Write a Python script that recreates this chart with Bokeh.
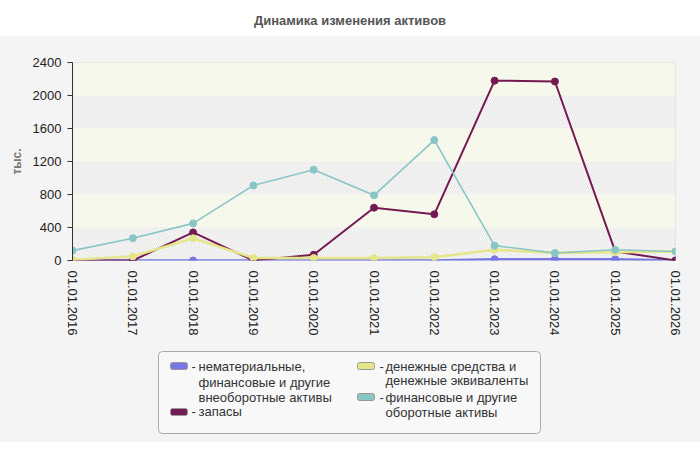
from bokeh.plotting import figure
from bokeh.models import Range1d, FixedTicker, Div
from bokeh.core.properties import value
from bokeh.layouts import column
from bokeh.embed import file_html
from bokeh.resources import INLINE

# ---- data ----
dates = ["01.01.2016", "01.01.2017", "01.01.2018", "01.01.2019", "01.01.2020", "01.01.2021",
         "01.01.2022", "01.01.2023", "01.01.2024", "01.01.2025", "01.01.2026"]
intangible = [0, 0, 0, 0, 0, 0, 0, 15, 15, 15, 0]
inventory = [0, 0, 340, 0, 70, 640, 560, 2180, 2170, 110, 0]
cash = [10, 50, 270, 30, 30, 30, 40, 130, 90, 100, 110]
other_current = [120, 270, 450, 910, 1100, 790, 1460, 180, 90, 130, 110]
y_ticks = [0, 400, 800, 1200, 1600, 2000, 2400]

names = ["нематериальные,\nфинансовые и другие\nвнеоборотные активы",
         "запасы",
         "денежные средства и\nденежные эквиваленты",
         "финансовые и другие\nоборотные активы"]
colors = ["#7676e6", "#741a52", "#e5e58a", "#88c6c6"]

W = 690
H1, H2 = 310, 95
BL, BR = 72, 15
FONT = "Liberation Sans"
PANEL = "#f4f4f4"

x = list(range(len(dates)))

p = figure(width=W, height=H1, output_backend="svg", toolbar_location=None,
           x_range=Range1d(0, len(dates) - 1), y_range=Range1d(y_ticks[0], y_ticks[-1]),
           min_border_left=BL, min_border_right=BR, min_border_top=25, min_border_bottom=H1 - 223)
p.border_fill_color = PANEL
p.background_fill_color = "#fcfdf2"
p.outline_line_color = "#dddddd"

# alternating hatched bands
hb = y_ticks[0::2][:-1]
ht = [v + 400 for v in hb]
p.quad(left=0, right=len(dates) - 1, bottom=hb, top=ht, fill_color="#f8f8f7", line_color=None,
       hatch_pattern="/", hatch_color="#e6e6e6", hatch_scale=4, hatch_weight=1)
cb = y_ticks[1::2]
ct = [v + 400 for v in cb]
p.quad(left=0, right=len(dates) - 1, bottom=cb, top=ct, fill_color="#fcfdf2", line_color=None,
       hatch_pattern="/", hatch_color="#f0f2e4", hatch_scale=4, hatch_weight=1)

# grid / axes
p.xgrid.grid_line_color = "#dcdcdc"
p.ygrid.grid_line_color = "#dcdcdc"
p.xgrid.grid_line_dash = "5 3"
p.ygrid.grid_line_dash = "5 3"
p.xaxis.ticker = FixedTicker(ticks=x)
p.yaxis.ticker = FixedTicker(ticks=y_ticks)
p.xaxis.major_label_overrides = {i: d for i, d in enumerate(dates)}
p.xaxis.major_label_orientation = "vertical"
p.xaxis.minor_tick_line_color = None
p.yaxis.minor_tick_line_color = None
p.yaxis.major_tick_out = 5
p.yaxis.major_tick_in = 0
p.yaxis.axis_line_color = "#333333"
p.yaxis.major_tick_line_color = "#333333"
p.xaxis.axis_line_color = None
p.xaxis.major_tick_line_color = None
p.axis.major_label_text_font = FONT
p.axis.major_label_text_font_size = "13px"
p.axis.major_label_text_color = "#222222"
p.xaxis.major_label_standoff = 4
p.yaxis.major_label_standoff = 6
p.yaxis.axis_label = "тыс."
p.yaxis.axis_label_text_font = FONT
p.yaxis.axis_label_text_font_size = "12px"
p.yaxis.axis_label_text_font_style = "bold"
p.yaxis.axis_label_text_color = "#777777"
p.yaxis.axis_label_standoff = 6

series = [intangible, inventory, cash, other_current]
widths = [2.5, 2, 2.5, 1.6]
for vals, col, lw in zip(series, colors, widths):
    p.line(x, vals, line_color=col, line_width=lw)
    p.scatter(x, vals, size=7, fill_color=col, line_color=col)

# ---- legend as a separate pixel-space figure (frame aligned with main frame) ----
lg = figure(width=W, height=H2, output_backend="svg", toolbar_location=None,
            x_range=Range1d(BL, W - BR), y_range=Range1d(H2, 0),
            min_border_left=BL, min_border_right=BR, min_border_top=0, min_border_bottom=0,
            x_axis_type=None, y_axis_type=None)
lg.grid.visible = False
lg.outline_line_color = None
lg.background_fill_color = PANEL
lg.border_fill_color = PANEL

lg.quad(left=[158], right=[540], top=[4], bottom=[86], fill_color="#f8f8f8",
        line_color="#aaaaaa", line_width=1, border_radius=4)

sw_left = [170, 170, 357, 357]
sw_top = [15, 61, 15, 46]
dash_x = [191, 191, 379, 379]
text_x = [198, 198, 385, 385]
text_y = [[19, 35, 50], [64], [19, 33], [50, 65]]
lg.quad(left=sw_left, right=[v + 17 for v in sw_left], top=sw_top, bottom=[v + 7 for v in sw_top],
        fill_color=colors, line_color="#999999", line_width=1, border_radius=2)
lg.text(x=dash_x, y=[t[0] for t in text_y], text=["-"] * 4, text_font=value(FONT),
        text_font_size="13px", text_color="#333333", text_baseline="middle")
tx, ty, tt = [], [], []
for i, name in enumerate(names):
    for line_txt, yy in zip(name.split("\n"), text_y[i]):
        tx.append(text_x[i])
        ty.append(yy)
        tt.append(line_txt)
lg.text(x=tx, y=ty, text=tt, text_font=value(FONT), text_font_size="13px",
        text_color="#333333", text_baseline="middle")

title = Div(text="<div style=\"width:680px;padding-left:10px;text-align:center;"
                 "font:bold 13px 'Liberation Sans';color:#555555;padding-top:8px\">"
                 "Динамика изменения активов</div>",
            width=W, height=27, styles={"background-color": "white"})

layout = column(title, p, lg, spacing=0,
                styles={"background": "linear-gradient(#ffffff 0px, #ffffff 36px, #f4f4f4 36px)"})
open("out.html", "w").write(file_html(layout, INLINE))
